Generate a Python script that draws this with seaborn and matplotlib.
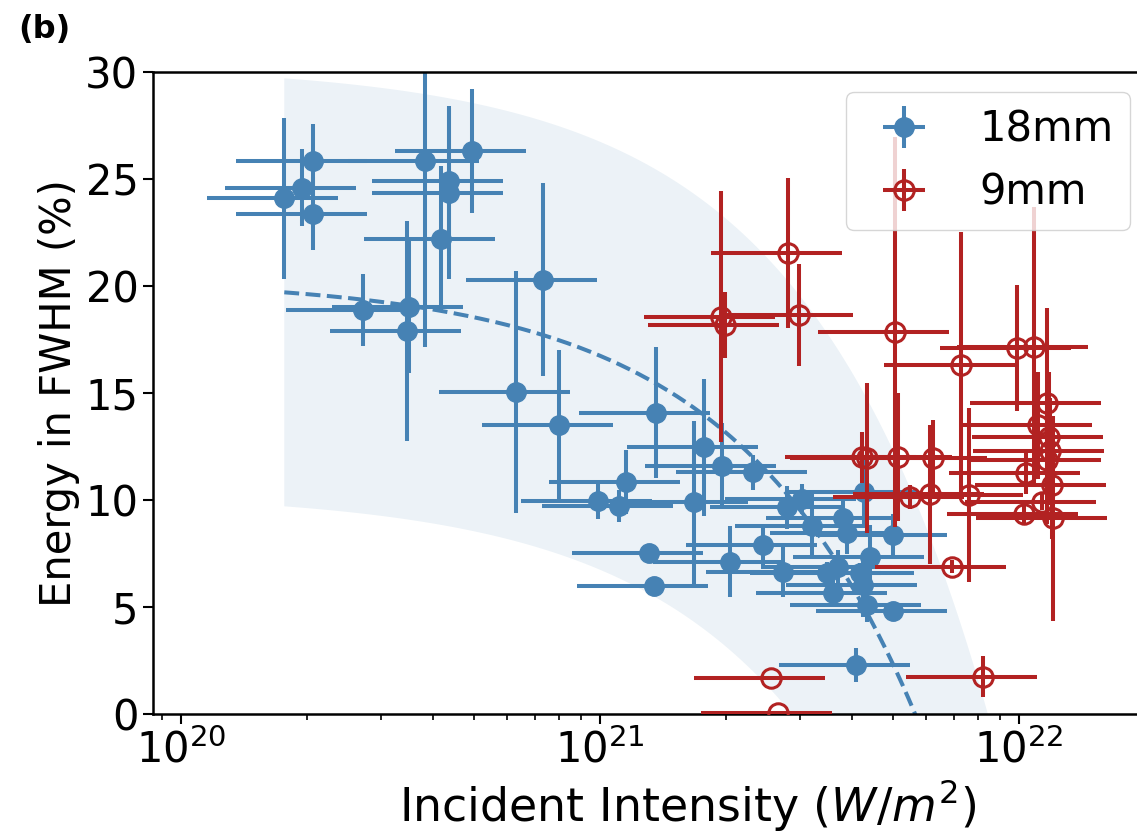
import numpy as np
import matplotlib
matplotlib.use("Agg")
import matplotlib.pyplot as plt
import seaborn as sns

# ---------------- data ----------------
# 18 mm target: incident intensity (W/m^2), energy in FWHM (%), y error (%)
x18 = [1.764e20, 1.948e20, 2.065e20, 2.065e20, 3.822e20, 4.958e20, 4.362e20, 4.362e20,
       4.168e20, 2.723e20, 3.506e20, 3.457e20, 7.32e20, 6.293e20, 7.97e20, 1.360e21,
       1.774e21, 1.955e21, 2.314e21, 1.151e21, 9.91e20, 1.108e21, 1.673e21, 1.307e21,
       1.343e21, 2.039e21, 2.453e21, 2.790e21, 3.03e21, 3.201e21, 3.809e21, 3.881e21,
       4.267e21, 4.995e21, 4.41e21, 3.706e21, 2.738e21, 3.605e21, 4.33e21, 4.995e21,
       4.083e21, 3.475e21, 4.174e21, 4.251e21]
y18 = [24.1, 24.6, 25.86, 23.38, 25.86, 26.32, 24.92, 24.33,
       22.2, 18.88, 19.03, 17.91, 20.3, 15.06, 13.5, 14.08,
       12.46, 11.59, 11.29, 10.85, 9.97, 9.73, 9.89, 7.52,
       6.0, 7.12, 7.9, 9.66, 10.03, 8.79, 9.14, 8.47,
       10.39, 8.36, 7.32, 6.85, 6.65, 5.67, 5.09, 4.81,
       2.29, 6.6, 6.57, 6.03]
yerr18 = [3.76, 1.8, 1.7, 1.7, 8.7, 2.9, 3.5, 4.0,
          3.4, 1.7, 3.1, 5.15, 4.5, 5.66, 3.5, 3.07,
          3.2, 2.0, 0.8, 1.5, 0.85, 0.75, 3.8, 0.4,
          0.3, 1.67, 1.0, 1.0, 0.7, 1.5, 1.0, 1.0,
          1.5, 1.0, 1.5, 0.8, 1.2, 0.6, 0.8, 0.3,
          0.8, 0.5, 0.5, 1.5]

# 9 mm target
x9 = [2.814e21, 1.941e21, 1.988e21, 2.984e21, 5.058e21, 9.87e21, 1.086e22, 7.27e21,
      1.165e22, 1.112e22, 1.181e22, 1.186e22, 1.165e22, 1.039e22, 1.197e22, 1.133e22,
      1.029e22, 1.203e22, 4.22e21, 4.337e21, 5.15e21, 6.245e21, 5.494e21, 6.133e21,
      7.61e21, 6.909e21, 2.555e21, 8.22e21, 2.655e21]
y9 = [21.56, 18.57, 18.18, 18.64, 17.86, 17.12, 17.17, 16.31,
      14.55, 13.5, 12.96, 12.27, 11.87, 11.25, 10.7, 9.92,
      9.33, 9.14, 12.0, 11.96, 12.0, 11.95, 10.15, 10.26,
      10.23, 6.88, 1.67, 1.74, 0.03]
yerr9 = [3.5, 5.85, 1.53, 2.4, 9.1, 2.94, 6.5, 6.2,
         4.4, 2.5, 3.0, 2.5, 3.0, 0.96, 2.5, 0.4,
         0.5, 4.8, 1.2, 3.5, 3.0, 1.8, 0.55, 3.26,
         4.07, 0.3, 0.0, 0.95, 0.0]

x_rel_err = 0.345          # relative intensity uncertainty (both series)

# linear trend of the 18 mm series and its band
fit_intercept = 20.34
fit_slope = -3.6e-21
band_half_width = 10.0

labels = ["18mm", "9mm"]
xticks = [1e20, 1e21, 1e22]
yticks = [0, 5, 10, 15, 20, 25, 30]

# ---------------- style ----------------
sns.set_theme(style="ticks")
plt.rcParams['font.family'] = ['DejaVu Sans']
plt.rcParams['mathtext.fontset'] = 'dejavusans'
plt.rcParams['text.color'] = 'black'
plt.rcParams['axes.labelcolor'] = 'black'
plt.rcParams['xtick.color'] = 'black'
plt.rcParams['ytick.color'] = 'black'

FS = 30
blue = "#4682b4"
red = "#b22222"

W, H = 1137, 835
fig = plt.figure(figsize=(W / 100, H / 100), dpi=100)
fig.patch.set_facecolor("white")
ax = fig.add_axes([153 / W, 121 / H, (1223 - 153) / W, 642 / H])
ax.set_facecolor("white")

x18a = np.array(x18)
x9a = np.array(x9)

# trend + band
xfit = np.geomspace(x18a.min(), max(x9a.max(), x18a.max()), 400)
yfit = fit_intercept + fit_slope * xfit
ax.fill_between(xfit, yfit - band_half_width, yfit + band_half_width,
                color=blue, alpha=0.1, linewidth=0, zorder=0)
sns.lineplot(x=xfit, y=yfit, ax=ax, color=blue, linestyle="--", linewidth=2.9,
             zorder=1, legend=False)

# data
e1 = ax.errorbar(x18a, y18, xerr=x_rel_err * x18a, yerr=yerr18, fmt="o",
                 color=blue, ecolor=blue, elinewidth=2.9, markersize=14,
                 capsize=0, label=labels[0], zorder=2)
e2 = ax.errorbar(x9a, y9, xerr=x_rel_err * x9a, yerr=yerr9, fmt="o",
                 color=red, ecolor=red, elinewidth=2.9, markersize=14,
                 markerfacecolor="none", markeredgewidth=2.2,
                 capsize=0, label=labels[1], zorder=3)

ax.set_xscale("log")
ax.set_xlim(10 ** (20 - 28 / 419), 10 ** (20 + (1223 - 181) / 419))
ax.set_ylim(0, 30)
ax.set_xticks(xticks)
ax.set_yticks(yticks)

for s in ax.spines.values():
    s.set_linewidth(1.8)
    s.set_color("black")
ax.tick_params(axis="both", which="major", labelsize=FS, length=7, width=1.5,
               colors="black", direction="out")
ax.tick_params(axis="x", which="minor", length=4, width=1.2, colors="black")

ax.set_xlabel(r"Incident Intensity ($W/m^2$)", fontsize=33, color="black",
              labelpad=4)
ax.set_ylabel("Energy in FWHM (%)", fontsize=FS, color="black")

leg = ax.legend(handles=[e1, e2], labels=labels, fontsize=FS,
                loc="upper right", bbox_to_anchor=(1130 / W, (H - 92) / H),
                bbox_transform=fig.transFigure, borderaxespad=0, frameon=True)
leg.get_frame().set_edgecolor("0.8")
for t in leg.get_texts():
    t.set_color("black")

fig.text(18 / W, (H - 38) / H, "(b)", fontsize=23, fontweight="bold",
         ha="left", va="baseline", color="black")

fig.savefig("out.png", dpi=100)
